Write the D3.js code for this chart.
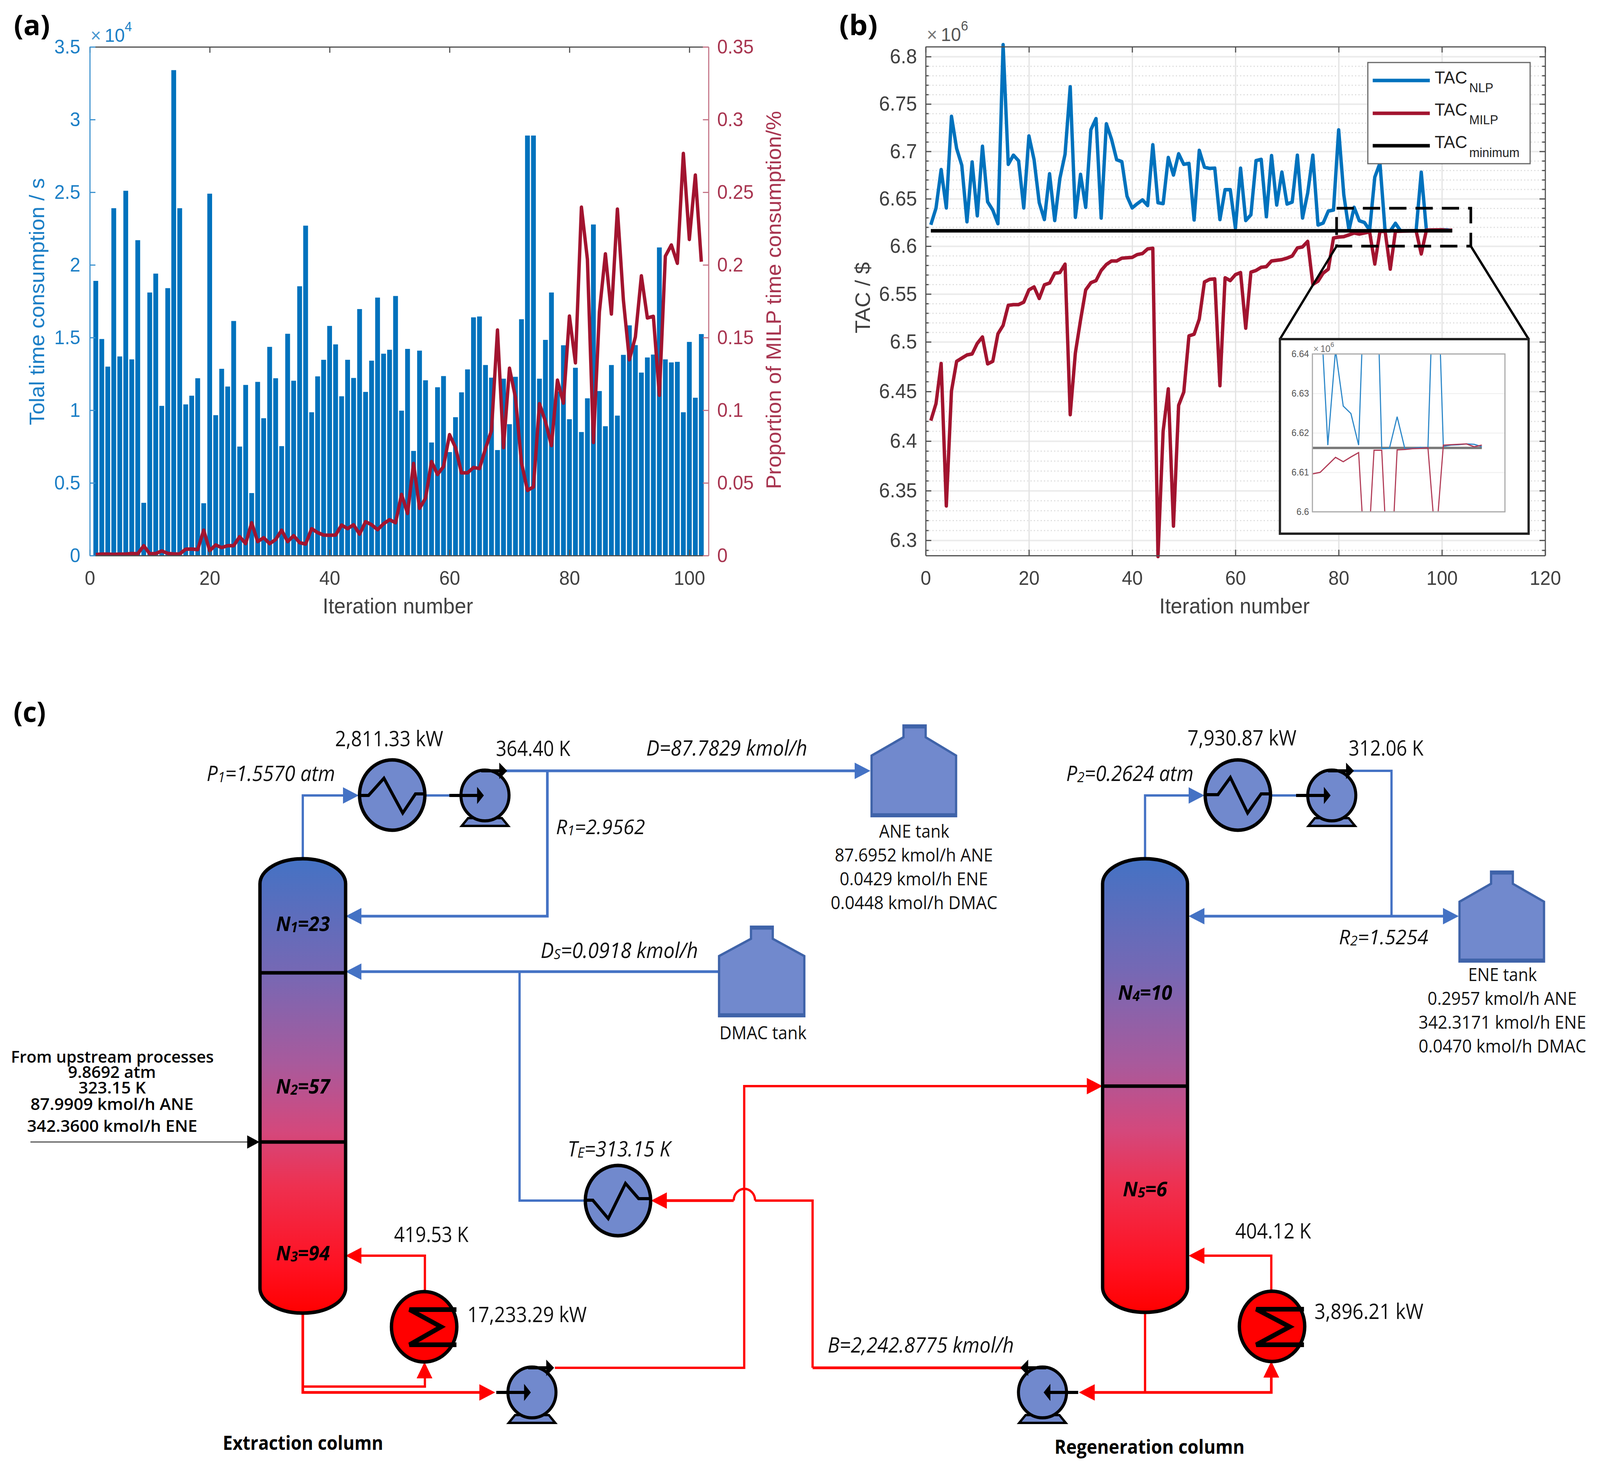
<!DOCTYPE html>
<html><head><meta charset="utf-8">
<script src="https://cdn.jsdelivr.net/npm/d3@7/dist/d3.min.js"></script>
<style>html,body{margin:0;padding:0;background:#fff;overflow:hidden}svg{display:block}</style>
</head><body><div id="chart"></div>
<script>
// ---------- DATA ----------
const iterations = d3.range(1, 103);
const totalTime = [1.89,1.49,1.30,2.39,1.37,2.51,1.35,2.17,0.363,1.81,1.94,1.03,1.84,3.34,2.39,1.04,1.10,1.22,0.36,2.49,0.966,1.285,1.163,1.614,0.75,1.174,0.43,1.195,0.945,1.436,1.22,0.753,1.526,1.203,1.853,2.27,0.986,1.233,1.347,1.58,1.453,1.096,1.347,1.222,1.696,1.126,1.341,1.775,1.389,1.416,1.786,0.997,1.422,0.72,1.41,1.206,0.778,1.158,1.235,0.712,0.952,1.123,1.281,1.639,1.645,1.311,1.224,0.726,1.217,0.904,1.23,1.626,2.89,2.89,1.217,1.484,1.81,1.13,1.447,0.938,1.292,0.85,1.082,2.278,1.132,0.89,1.311,0.963,1.381,1.584,1.448,1.259,1.363,1.383,2.12,1.35,1.329,1.333,0.986,1.47,1.086,1.524];
const milpShare = [.0007,.001,.001,.0008,.001,.001,.0014,.0012,.0068,.0012,.0014,.0032,.0015,.0011,.0011,.0044,.0045,.0041,.0175,.0034,.0073,.0055,.0068,.0068,.013,.0082,.0226,.0096,.0123,.0082,.011,.0175,.0096,.0137,.0089,.0079,.0185,.0158,.0141,.014,.0141,.021,.0185,.0212,.0147,.0233,.0212,.0178,.0219,.0247,.0226,.0421,.029,.0634,.0325,.0394,.0647,.0558,.0613,.0832,.0743,.0569,.0569,.0606,.0599,.0736,.086,.1552,.0743,.1289,.1086,.064,.0448,.0473,.1045,.0922,.0757,.1207,.1049,.1648,.1326,.2397,.2038,.0778,.1676,.2076,.1662,.2384,.1758,.1347,.1504,.1925,.1635,.1646,.1103,.206,.2137,.2011,.2767,.2175,.2618,.2022];
const tacNLP = [6.6225,6.640,6.6808,6.6403,6.737,6.703,6.6853,6.6257,6.6888,6.632,6.7054,6.6468,6.638,6.6237,6.8126,6.6863,6.696,6.690,6.6403,6.7163,6.6912,6.6458,6.628,6.6764,6.627,6.6715,6.697,6.7682,6.6304,6.6758,6.6409,6.7228,6.7346,6.6296,6.7291,6.7129,6.6912,6.6892,6.6527,6.6403,6.6448,6.6488,6.6428,6.707,6.6458,6.6448,6.6936,6.675,6.6975,6.6863,6.6873,6.6276,6.7011,6.6833,6.682,6.6823,6.628,6.6596,6.6596,6.6191,6.6823,6.627,6.633,6.6902,6.6916,6.631,6.6956,6.6434,6.6781,6.6444,6.6465,6.696,6.6297,6.656,6.696,6.6223,6.6244,6.637,6.6381,6.7227,6.654,6.6169,6.641,6.6268,6.6249,6.6169,6.6728,6.6876,6.616,6.6161,6.6241,6.616,6.6161,6.6163,6.6162,6.678,6.6166,6.6169,6.617,6.6172,6.6171,6.6165];
const tacMILP = [6.4206,6.4377,6.4782,6.3346,6.4505,6.4804,6.4836,6.4868,6.4878,6.4985,6.5051,6.4778,6.4804,6.5084,6.5172,6.5382,6.5389,6.5389,6.5415,6.5543,6.5574,6.5453,6.5596,6.5614,6.5717,6.5724,6.5812,6.4266,6.4889,6.5227,6.5543,6.5618,6.564,6.5746,6.5808,6.5845,6.5845,6.5874,6.5879,6.5883,6.5912,6.5923,6.5971,6.5978,6.2836,6.41,6.4526,6.3143,6.436,6.4494,6.5062,6.508,6.5238,6.5625,6.5653,6.5658,6.4558,6.5669,6.564,6.5702,6.5724,6.5143,6.5728,6.5746,6.5779,6.5786,6.5845,6.5852,6.5859,6.5875,6.5897,6.5981,6.5992,6.605,6.56,6.5634,6.5718,6.576,6.6086,6.6096,6.61,6.6119,6.6138,6.6127,6.6139,6.615,6.5813,6.6156,6.6156,6.576,6.6157,6.6158,6.616,6.6161,6.6162,6.5918,6.6169,6.617,6.6171,6.6172,6.6165,6.6169];
const tacMinimum = 6.6162;
const ticksXa = [0,20,40,60,80,100];
const ticksXb = [0,20,40,60,80,100,120];
const ticksLeft = [0,0.5,1,1.5,2,2.5,3,3.5];
const ticksRight = [0,0.05,0.1,0.15,0.2,0.25,0.3,0.35];
const ticksTAC = [6.3,6.35,6.4,6.45,6.5,6.55,6.6,6.65,6.7,6.75,6.8];
const ticksInset = [6.6,6.61,6.62,6.63,6.64];
const legendSubs = ["NLP","MILP","minimum"];

// ---------- SETUP ----------
const BLUE="#0072BD", RED="#A2142F", GREY="#404040", AXIS="#505050";
const SANS="'Liberation Sans',Arial,sans-serif", CAL="'Open Sans','Noto Sans',sans-serif";
// The drawing space is the reference's 4259x3760; the svg is fitted to whatever window the page gets.
const svg=d3.select("#chart").append("svg").attr("width",window.innerWidth).attr("height",window.innerHeight)
  .attr("viewBox","0 0 4259 3760").attr("preserveAspectRatio","none");
svg.append("rect").attr("width",4259).attr("height",3760).attr("fill","#fff");
const defs=svg.append("defs");
const grad=defs.append("linearGradient").attr("id","col").attr("x1",0).attr("x2",0).attr("y1",0).attr("y2",1);
[[0,"#4472C4"],[.25,"#7668b4"],[.45,"#a85a9c"],[.6,"#d4487c"],[.72,"#ee3050"],[.9,"#ff1020"],[1,"#ff0000"]].forEach(s=>grad.append("stop").attr("offset",s[0]).attr("stop-color",s[1]));

function styleAxis(g,color,w,textColor,size){
  g.selectAll("path.domain").attr("stroke",color).attr("stroke-width",w);
  g.selectAll(".tick line").attr("stroke",color).attr("stroke-width",w);
  g.selectAll(".tick text").attr("fill",textColor).attr("font-family",SANS).attr("font-size",size||50);
}
function sciLabel(x,y,exp,color,size){
  const s=size||48;
  const t=svg.append("text").attr("x",x).attr("y",y).attr("font-family",SANS).attr("font-size",s).attr("fill",color);
  t.append("tspan").text("×").attr("opacity",.8);
  t.append("tspan").attr("dx",s*0.2).text("10");
  t.append("tspan").attr("dy",-s*0.56).attr("font-size",s*0.72).text(exp);
}
function axisTitle(text,x,y,color,rot){
  svg.append("text").attr("transform",`translate(${x},${y})`+(rot?` rotate(${rot})`:""))
    .attr("text-anchor","middle").attr("font-family",SANS).attr("font-size",55).attr("fill",color).text(text);
}

// ---------- PANEL A ----------
const ax=d3.scaleLinear().domain([0,103.2]).range([239,1886]);
const ayL=d3.scaleLinear().domain([0,3.5]).range([1422,120]);
const ayR=d3.scaleLinear().domain([0,0.35]).range([1422,120]);
const barW=(ax(1)-ax(0))*0.8;
const pa=svg.append("g");
pa.selectAll("rect.bar").data(iterations).join("rect").attr("class","bar")
  .attr("x",d=>ax(d)-barW/2).attr("width",barW)
  .attr("y",(d,i)=>ayL(totalTime[i])).attr("height",(d,i)=>ayL(0)-ayL(totalTime[i])).attr("fill",BLUE);
pa.append("path").datum(iterations).attr("fill","none").attr("stroke",RED).attr("stroke-width",9).attr("stroke-linejoin","round")
  .attr("d",d3.line().x(d=>ax(d)).y((d,i)=>ayR(milpShare[i])));
const aB=svg.append("g").attr("transform","translate(0,1422)").call(d3.axisBottom(ax).tickValues(ticksXa).tickSize(-15).tickPadding(40).tickSizeOuter(0).tickFormat(d3.format("d")));
styleAxis(aB,AXIS,3,GREY);
const aT=svg.append("g").attr("transform","translate(0,120)").call(d3.axisTop(ax).tickValues(ticksXa).tickSize(-15).tickSizeOuter(0).tickFormat(""));
styleAxis(aT,AXIS,3,GREY);
const aL=svg.append("g").attr("transform","translate(239,0)").call(d3.axisLeft(ayL).tickValues(ticksLeft).tickSize(-15).tickPadding(25).tickSizeOuter(0).tickFormat(String));
styleAxis(aL,"#3f93cf",3,"#1c7fc6");
const aR=svg.append("g").attr("transform","translate(1886,0)").call(d3.axisRight(ayR).tickValues(ticksRight).tickSize(-15).tickPadding(23).tickSizeOuter(0).tickFormat(String));
styleAxis(aR,"#c57688",3,"#a83550");
sciLabel(241,107,"4","#1c7fc6");
axisTitle("Tolal time consumption / s",118,772,"#1c7fc6",-90);
axisTitle("Proportion of MILP time consumption/%",2079,768,"#a83550",-90);
axisTitle("Iteration number",1059,1570,GREY);

// ---------- PANEL B ----------
const bx=d3.scaleLinear().domain([0,120]).range([2464,4113]);
const by=d3.scaleLinear().domain([6.2846,6.5,6.6,6.8105]).range([1422,875,630,119.4]);
const bW=4113-2464;
const minor=d3.range(6.29,6.805,0.01).map(v=>+v.toFixed(2)).filter(v=>!ticksTAC.includes(v));
const gMinor=svg.append("g").attr("transform","translate(2464,0)").call(d3.axisLeft(by).tickValues(minor).tickSize(-bW).tickFormat(""));
gMinor.select("path.domain").remove();
gMinor.selectAll(".tick line").attr("stroke","#dcdcdc").attr("stroke-width",3).attr("stroke-dasharray","3 6");
const gMajY=svg.append("g").attr("transform","translate(2464,0)").call(d3.axisLeft(by).tickValues(ticksTAC).tickSize(-bW).tickFormat(""));
gMajY.select("path.domain").remove();
gMajY.selectAll(".tick line").attr("stroke","#ebebeb").attr("stroke-width",4);
const gMajX=svg.append("g").attr("transform","translate(0,1422)").call(d3.axisBottom(bx).tickValues(ticksXb.slice(1,-1)).tickSize(-1302.6).tickFormat(""));
gMajX.select("path.domain").remove();
gMajX.selectAll(".tick line").attr("stroke","#e2e2e2").attr("stroke-width",3);
const lineB=arr=>d3.line().x(d=>bx(d)).y((d,i)=>by(arr[i]));
const pb=svg.append("g");
pb.append("path").datum(iterations).attr("fill","none").attr("stroke",BLUE).attr("stroke-width",9).attr("stroke-linejoin","round").attr("d",lineB(tacNLP));
pb.append("path").datum(iterations).attr("fill","none").attr("stroke",RED).attr("stroke-width",9).attr("stroke-linejoin","round").attr("d",lineB(tacMILP));
pb.append("path").datum([1,102]).attr("fill","none").attr("stroke","#000").attr("stroke-width",9)
  .attr("d",d3.line().x(d=>bx(d)).y(()=>by(tacMinimum)));
const bB=svg.append("g").attr("transform","translate(0,1422)").call(d3.axisBottom(bx).tickValues(ticksXb).tickSize(-15).tickPadding(40).tickSizeOuter(0).tickFormat(d3.format("d")));
styleAxis(bB,AXIS,3,GREY);
const bT=svg.append("g").attr("transform","translate(0,119.4)").call(d3.axisTop(bx).tickValues(ticksXb).tickSize(-15).tickSizeOuter(0).tickFormat(""));
styleAxis(bT,AXIS,3,GREY);
const bL=svg.append("g").attr("transform","translate(2464,0)").call(d3.axisLeft(by).tickValues(ticksTAC).tickSize(-15).tickPadding(23).tickSizeOuter(0).tickFormat(String));
styleAxis(bL,AXIS,3,GREY,52);
const bR=svg.append("g").attr("transform","translate(4113,0)").call(d3.axisRight(by).tickValues(ticksTAC).tickSize(-15).tickSizeOuter(0).tickFormat(""));
styleAxis(bR,AXIS,3,GREY);
[[2464,d3.axisLeft,-8],[4113,d3.axisRight,-8]].forEach(c=>{
  const g=svg.append("g").attr("transform",`translate(${c[0]},0)`).call(c[1](by).tickValues(minor).tickSize(c[2]).tickFormat(""));
  g.select("path.domain").remove();
  g.selectAll(".tick line").attr("stroke",AXIS).attr("stroke-width",3);
});
sciLabel(2467,105,"6","#555");
axisTitle("TAC / $",2316,762,GREY,-90);
axisTitle("Iteration number",3286,1570,GREY);

// zoom rectangle and connectors
svg.append("rect").attr("x",bx(79.6)).attr("y",by(6.64)).attr("width",bx(105.6)-bx(79.6)).attr("height",by(6.6)-by(6.64))
  .attr("fill","none").attr("stroke","#000").attr("stroke-width",7).attr("stroke-dasharray","46 24");
const inL=3407,inR=4069,inT=868,inB=1366;
svg.append("path").attr("d",`M${bx(79.6)},${by(6.6)}L${inL},${inT}M${bx(105.6)},${by(6.6)}L${inR},${inT}`).attr("stroke","#000").attr("stroke-width",6).attr("fill","none");
svg.append("rect").attr("x",inL).attr("y",inT).attr("width",inR-inL).attr("height",inB-inT).attr("fill","#fff").attr("stroke","#222").attr("stroke-width",6);

// inset
const ix=d3.scaleLinear().domain([80,105]).range([3493.5,4006]);
const iy=d3.scaleLinear().domain([6.6,6.64]).range([1310,906]);
const gi=svg.append("g").attr("transform","translate(3493.5,0)").call(d3.axisLeft(iy).tickValues(ticksInset).tickSize(-512.5).tickPadding(9).tickSizeOuter(0).tickFormat(String));
gi.select("path.domain").remove();
gi.selectAll(".tick line").attr("stroke","#eeeeee").attr("stroke-width",2);
gi.selectAll(".tick text").attr("fill","#555").attr("font-family",SANS).attr("font-size",24);
defs.append("clipPath").attr("id","insetClip").append("rect").attr("x",3493.5).attr("y",906).attr("width",512.5).attr("height",404);
const ci=svg.append("g").attr("clip-path","url(#insetClip)");
const lineI=arr=>d3.line().x(d=>ix(d)).y((d,i)=>iy(arr[i]));
ci.append("path").datum([1,102]).attr("fill","none").attr("stroke","#777").attr("stroke-width",6)
  .attr("d",d3.line().x(d=>ix(d)).y(()=>iy(tacMinimum)));
ci.append("path").datum(iterations).attr("fill","none").attr("stroke","#2a86c8").attr("stroke-width",3).attr("d",lineI(tacNLP));
ci.append("path").datum(iterations).attr("fill","none").attr("stroke","#b03a55").attr("stroke-width",3).attr("d",lineI(tacMILP));
svg.append("rect").attr("x",3493.5).attr("y",906).attr("width",512.5).attr("height",404).attr("fill","none").attr("stroke","#aaa").attr("stroke-width",3);
sciLabel(3496,901,"6","#666",24);

// legend
svg.append("rect").attr("x",3641).attr("y",160).attr("width",432).attr("height",259).attr("fill","#fff").attr("stroke","#666").attr("stroke-width",3);
[[BLUE,206,214,236],[RED,290,296,318],["#000",373,379,402]].forEach((r,i)=>{
  svg.append("line").attr("x1",3654).attr("x2",3806).attr("y1",r[1]).attr("y2",r[1]).attr("stroke",r[0]).attr("stroke-width",9);
  svg.append("text").attr("x",3819).attr("y",r[2]).attr("font-family",SANS).attr("font-size",45).attr("fill","#222").text("TAC");
  svg.append("text").attr("x",3911).attr("y",r[3]).attr("font-family",SANS).attr("font-size",33).attr("fill","#222").text(legendSubs[i]);
});

// ---------- DIAGRAM (c) ----------
const dia=svg.append("g");
const PB="#4472C4", PR="#ff0000", FILL="#7189cd";
const pathLine=d3.line();
function pipe(pts,c,w){dia.append("path").attr("d",pathLine(pts)).attr("fill","none").attr("stroke",c).attr("stroke-width",w||6).attr("stroke-linejoin","miter");}
function arrow(tx,ty,dir,c,len,half){
  const L=len||42,H=half||21; let p;
  if(dir==="r")p=[[tx,ty],[tx-L,ty-H],[tx-L,ty+H]];
  if(dir==="l")p=[[tx,ty],[tx+L,ty-H],[tx+L,ty+H]];
  if(dir==="u")p=[[tx,ty],[tx-H,ty+L],[tx+H,ty+L]];
  dia.append("path").attr("d",pathLine(p)+"Z").attr("fill",c);
}
function column(x0,x1,top,bot,divs){
  const rx=(x1-x0)/2, ry=64;
  dia.append("path").attr("d",`M${x0},${top+ry}A${rx},${ry} 0 0 1 ${x1},${top+ry}L${x1},${bot-ry}A${rx},${ry} 0 0 1 ${x0},${bot-ry}Z`)
    .attr("fill","url(#col)").attr("stroke","#000").attr("stroke-width",9);
  divs.forEach(y=>dia.append("line").attr("x1",x0).attr("x2",x1).attr("y1",y).attr("y2",y).attr("stroke","#000").attr("stroke-width",9));
}
function exchanger(cx,cy,pts,fill,w){
  dia.append("ellipse").attr("cx",cx).attr("cy",cy).attr("rx",87).attr("ry",90).attr("fill",fill).attr("stroke","#000").attr("stroke-width",9);
  dia.append("path").attr("d",pathLine(pts)).attr("fill","none").attr("stroke","#000").attr("stroke-width",w||8).attr("stroke-linejoin","miter");
}
function pump(cx,cy,d){
  dia.append("path").attr("d",pathLine([[cx-45,cy+58],[cx+45,cy+58],[cx+62,cy+78],[cx-62,cy+78]])+"Z").attr("fill",FILL).attr("stroke","#000").attr("stroke-width",6);
  dia.append("ellipse").attr("cx",cx).attr("cy",cy).attr("rx",64).attr("ry",65).attr("fill",FILL).attr("stroke","#000").attr("stroke-width",8);
  dia.append("line").attr("x1",cx-d*95).attr("x2",cx-d*10).attr("y1",cy).attr("y2",cy).attr("stroke","#000").attr("stroke-width",8);
  dia.append("path").attr("d",pathLine([[cx-d*3,cy],[cx-d*21,cy-22],[cx-d*21,cy+22]])+"Z").attr("fill","#000");
  dia.append("line").attr("x1",cx-d*10).attr("x2",cx+d*42).attr("y1",cy-63).attr("y2",cy-63).attr("stroke","#000").attr("stroke-width",8);
  dia.append("path").attr("d",pathLine([[cx+d*59,cy-63],[cx+d*38,cy-84],[cx+d*38,cy-42]])+"Z").attr("fill","#000");
}
function tank(x0,x1,nx0,nx1,top,joint,sh,bot){
  dia.append("path").attr("d",pathLine([[nx0,top],[nx1,top],[nx1,joint],[x1,sh],[x1,bot],[x0,bot],[x0,sh],[nx0,joint]])+"Z").attr("fill",FILL).attr("stroke","#3f63a9").attr("stroke-width",6);
  dia.append("line").attr("x1",x0).attr("x2",x1).attr("y1",bot-3).attr("y2",bot-3).attr("stroke","#3f63a9").attr("stroke-width",9);
  dia.append("line").attr("x1",nx0).attr("x2",nx1).attr("y1",top+3).attr("y2",top+3).attr("stroke","#3f63a9").attr("stroke-width",9);
}
function label(text,x0,x1,base,size,opt){
  const o=opt||{};
  const t=dia.append("text").attr("font-family",CAL).attr("font-size",size).attr("fill",o.fill||"#111")
    .attr("font-style",o.italic?"italic":"normal").attr("font-weight",o.weight||400);
  const parts=text.split(/_(.)/);
  let shifted=false;
  parts.forEach((p,i)=>{
    if(!p)return;
    const s=t.append("tspan").text(p);
    if(i%2===1){s.attr("font-size",size*0.68).attr("dy",size*0.06);shifted=true;}
    else if(shifted){s.attr("dy",-size*0.06);shifted=false;}
  });
  const w=t.node().getComputedTextLength();
  t.attr("transform",`translate(${x0},${base}) scale(${(x1-x0)/w},1)`);
}

// blue pipes
pipe([[806,2198],[806,2036],[915,2036]],PB);
pipe([[1131,2036],[1225,2036]],PB);
pipe([[1345,1973],[2276,1973]],PB,7);
pipe([[1457,1973],[1457,2345],[960,2345]],PB,7);
pipe([[1914,2487],[960,2487]],PB,7);
pipe([[1383,2487],[1383,3073],[1558,3073]],PB);
pipe([[3048,2198],[3048,2036],[3166,2036]],PB);
pipe([[3381,2036],[3454,2036]],PB);
pipe([[3601,1973],[3704,1973],[3704,2345]],PB);
pipe([[3205,2345],[3842,2345]],PB,7);
arrow(955,2036,"r",PB); arrow(2317,1973,"r",PB); arrow(920,2345,"l",PB); arrow(920,2487,"l",PB);
arrow(3206,2036,"r",PB); arrow(3164,2345,"l",PB); arrow(3883,2345,"r",PB);
// red pipes
pipe([[1131,3306],[1131,3214],[960,3214]],PR);
pipe([[806,3361],[806,3564],[1280,3564]],PR,7);
pipe([[806,3549],[1131,3549],[1131,3525]],PR);
pipe([[1477,3501],[1981,3501],[1981,2780],[2893,2780]],PR);
pipe([[2163,3501],[2720,3501]],PR,7);
pipe([[2163,3501],[2163,3073],[2010,3073]],PR);
dia.append("path").attr("d","M2010,3073A28.5,30 0 0 0 1953,3073").attr("fill","none").attr("stroke",PR).attr("stroke-width",6);
pipe([[1953,3073],[1773,3073]],PR,7);
pipe([[3048,3359],[3048,3564]],PR);
pipe([[2912,3564],[3384,3564],[3384,3526]],PR,7);
pipe([[3384,3307],[3384,3214],[3203,3214]],PR);
arrow(920,3214,"l",PR); arrow(1130,3486,"u",PR); arrow(1318,3564,"r",PR); arrow(2935,2780,"r",PR);
arrow(1733,3073,"l",PR); arrow(2872,3564,"l",PR); arrow(3384,3484,"u",PR); arrow(3164,3214,"l",PR);
// feed
pipe([[81,2923],[660,2923]],"#555",3);
arrow(691,2923,"r","#000",33,17);
// equipment
column(692,920,2198,3361,[2490,2923]);
column(2935,3161,2198,3359,[2780]);
exchanger(1044,2035,[[957,2036],[981,2036],[1022,1992],[1072,2081],[1106,2032],[1131,2032]],FILL);
exchanger(3295,2035,[[3210,2034],[3242,2034],[3275,1990],[3321,2081],[3357,2032],[3381,2032]],FILL);
exchanger(1645,3073,[[1558,3072],[1578,3072],[1619,3119],[1665,3029],[1700,3068],[1733,3068]],FILL);
exchanger(1129,3396,[[1215,3352],[1090,3352],[1174,3396],[1090,3442],[1215,3442]],"#ff0000",12);
exchanger(3386,3395,[[3471,3351],[3344,3351],[3433,3396],[3344,3442],[3471,3442]],"#ff0000",12);
pump(1291,2036,1); pump(3545,2036,1); pump(1416,3564,1); pump(2775,3564,-1);
tank(2320,2545,2405,2464,1857,1887,1934,2089);
tank(1914,2141,1999,2057,2372,2403,2447,2601);
tank(3885,4110,3969,4027,2231,2262,2308,2461);

// panel letters
label("(a)",37,133,90,72,{weight:700,fill:"#000"});
label("(b)",2234,2336,90,72,{weight:700,fill:"#000"});
label("(c)",36,122,1848,72,{weight:700,fill:"#000"});
// diagram labels
const it={italic:true}, bi={italic:true,weight:700,fill:"#000"}, sb={weight:600,fill:"#000"};
label("2,811.33 kW",892,1180,1910,54);
label("364.40 K",1320,1518,1935,54);
label("P_1=1.5570 atm",550,892,1999,54,it);
label("R_1=2.9562",1480,1717,2135,52,it);
label("D=87.7829 kmol/h",1720,2149,1934,54,it);
label("D_S=0.0918 kmol/h",1439,1858,2452,54,it);
label("N_1=23",735,878,2383,52,bi);
label("N_2=57",735,878,2799,52,bi);
label("N_3=94",735,878,3226,52,bi);
label("From upstream processes",29,569,2720,42,sb);
label("9.8692 atm",181,415,2759,42,sb);
label("323.15 K",209,388,2799,42,sb);
label("87.9909 kmol/h ANE",81,515,2841,42,sb);
label("342.3600 kmol/h ENE",72,525,2897,42,sb);
label("T_E=313.15 K",1511,1785,2960,54,it);
label("419.53 K",1049,1247,3179,54);
label("17,233.29 kW",1244,1562,3384,54);
label("Extraction column",593,1020,3711,50,{weight:700,fill:"#000"});
label("ANE tank",2340,2527,2144,46);
label("87.6952 kmol/h ANE",2222,2643,2205,46);
label("0.0429 kmol/h ENE",2235,2630,2266,46);
label("0.0448 kmol/h DMAC",2211,2655,2327,46);
label("DMAC tank",1915,2147,2660,46);
label("7,930.87 kW",3161,3451,1908,54);
label("312.06 K",3590,3789,1934,54);
label("P_2=0.2624 atm",2838,3177,1999,54,it);
label("R_2=1.5254",3564,3802,2417,52,it);
label("N_4=10",2976,3120,2559,52,bi);
label("ENE tank",3908,4091,2511,46);
label("0.2957 kmol/h ANE",3800,4197,2572,46);
label("342.3171 kmol/h ENE",3776,4222,2633,46);
label("0.0470 kmol/h DMAC",3776,4222,2694,46);
label("N_5=6",2989,3107,3062,52,bi);
label("404.12 K",3288,3490,3170,54);
label("3,896.21 kW",3499,3789,3376,54);
label("B=2,242.8775 kmol/h",2203,2699,3462,54,it);
label("Regeneration column",2807,3313,3721,50,{weight:700,fill:"#000"});
</script></body></html>
